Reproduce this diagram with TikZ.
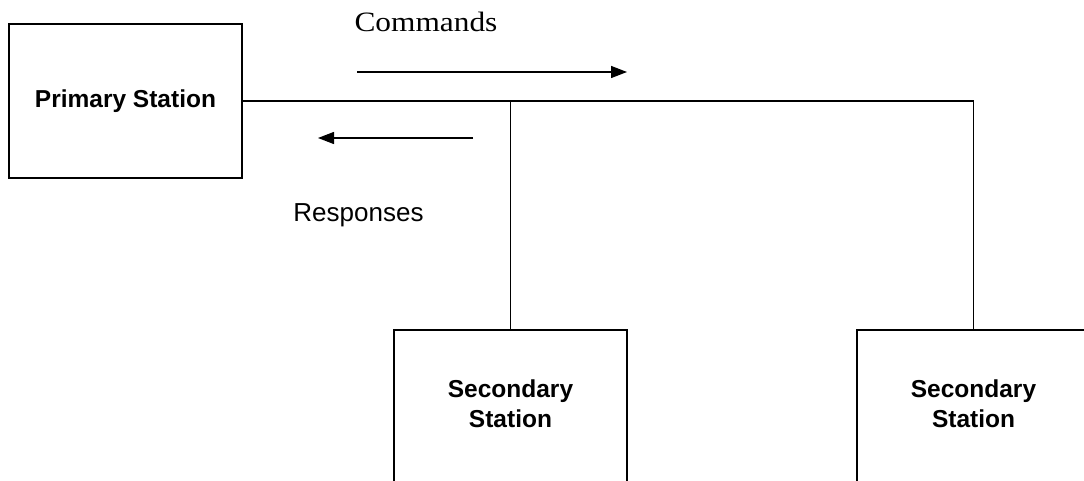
\documentclass[tikz,border=0pt]{standalone}
\usepackage{fontspec}
\setmainfont{Liberation Sans}
\newfontfamily\timesfont{Liberation Serif}
\usepackage{tikz}
\usetikzlibrary{arrows.meta, positioning, calc}
\tikzset{
    station/.style={
        rectangle,
        draw=black,
        line width=1.5pt,
        minimum width=233pt,
    },
    stationtext/.style={
        font=\fontsize{24.5}{30}\selectfont\bfseries,
        align=center,
    },
    flow/.style={
        -{Triangle[length=16pt,width=12pt]},
        line width=1.4pt,
    },
}

\begin{document}
\begin{tikzpicture}[x=1pt, y=1pt, node distance=2cm]
      \useasboundingbox (0,0) rectangle (1084,-481);
      \fill[white] (0,0) rectangle (1084,-481);
      \clip (0,0) rectangle (1084,-481);

      % stations
      \node[station, stationtext, minimum height=154pt] (prim) at (125.5,-101) {Primary Station};

      \node[station, minimum height=200pt, anchor=north] (sec1) at (510.5,-329) {};
      \node[stationtext, below=47pt of sec1.north] (sec1txt) {Secondary\\Station};

      \node[station, minimum height=200pt, anchor=north] (sec2) at (973.5,-329) {};
      \node[stationtext, below=47pt of sec2.north] (sec2txt) {Secondary\\Station};

      % line
      \draw[line width=1.5pt] (prim.east) -- (prim.east -| sec2.north) -- (sec2.north);
      \draw[line width=1.5pt] (sec1.north) -- (sec1.north |- prim.east);

      % directions
      \node[font=\timesfont\fontsize{28}{32}\selectfont, xscale=1.12, transform shape, anchor=base] (cmdlbl) at (426,-32) {Commands};
      \coordinate (cmdtail) at (357,-72);
      \coordinate (cmdhead) at (627,-72);
      \draw[flow] (cmdtail) -- (cmdhead);

      \coordinate (resptail) at (473,-138);
      \coordinate (resphead) at (318,-138);
      \draw[flow] (resptail) -- (resphead);
      \node[font=\fontsize{26}{30}\selectfont, anchor=base] (resplbl) at (358.5,-222) {Responses};
    \end{tikzpicture}
\end{document}
